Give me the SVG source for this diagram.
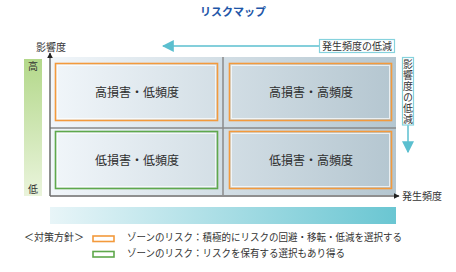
<svg xmlns="http://www.w3.org/2000/svg" width="456" height="272" viewBox="0 0 456 272">
<defs>
<linearGradient id="gridBg" x1="0" y1="0" x2="1" y2="0">
<stop offset="0" stop-color="#f1f6fa"/>
<stop offset="1" stop-color="#b4c6d0"/>
</linearGradient>
<linearGradient id="greenBar" x1="0" y1="0" x2="0" y2="1">
<stop offset="0" stop-color="#b3d88a"/>
<stop offset="1" stop-color="#eaf4dc"/>
</linearGradient>
<linearGradient id="cyanBar" x1="0" y1="0" x2="1" y2="0">
<stop offset="0" stop-color="#e8f5f8"/>
<stop offset="1" stop-color="#6ac6d2"/>
</linearGradient>
<marker id="blackHead" viewBox="0 0 10 10" refX="9" refY="5" markerWidth="6" markerHeight="6" markerUnits="userSpaceOnUse" orient="auto">
<path d="M0,0 L10,5 L0,10 z" fill="#222"/>
</marker>
<marker id="cyanHead" viewBox="0 0 10 10" refX="9" refY="5" markerWidth="12" markerHeight="12" markerUnits="userSpaceOnUse" orient="auto">
<path d="M0,0 L10,5 L0,10 z" fill="#5bbfcf"/>
</marker>
</defs>
<style>
text{font-family:"Noto Sans CJK JP","Noto Sans",sans-serif;fill:#333;}
.title{font-size:11px;font-weight:bold;fill:#1e56a8;}
.lbl{font-size:10px;}
.q{font-size:12px;text-anchor:middle;fill:#2e2e2e;}
.orange{fill:none;stroke:#f39a3c;stroke-width:1.6;}
.green{fill:none;stroke:#5fa84c;stroke-width:1.6;}
.inner{fill:none;stroke:#ffffff;stroke-opacity:0.7;stroke-width:1;}
.cbox{fill:#ffffff;stroke:#86d2dd;stroke-width:1.2;}
.axis{stroke:#6a6a6a;stroke-width:1.5;fill:none;}
.div{stroke:#8a8a8a;stroke-width:1.5;fill:none;}
.carrow{stroke:#5bbfcf;stroke-width:1.5;fill:none;}
.vert{font-size:10px;writing-mode:vertical-rl;letter-spacing:1px;}
</style>

<text class="title" x="233" y="16" text-anchor="middle">リスクマップ</text>

<g id="background">
<rect x="50" y="57" width="346" height="138" fill="url(#gridBg)"/>
<rect x="24" y="59" width="18" height="137" fill="url(#greenBar)"/>
<text class="lbl" x="33" y="70" text-anchor="middle">高</text>
<text class="lbl" x="33" y="193" text-anchor="middle">低</text>
<rect x="50" y="207" width="346" height="17" fill="url(#cyanBar)"/>
<line class="div" x1="223" y1="57" x2="223" y2="195"/>
<line class="div" x1="50" y1="128" x2="396" y2="128"/>
</g>

<g id="q-tl">
<rect class="orange" x="55.5" y="63.5" width="162" height="57"/>
<rect class="inner" x="57.5" y="65.5" width="158" height="53"/>
<text class="q" x="137" y="97">高損害・低頻度</text>
</g>
<g id="q-tr">
<rect class="orange" x="229.5" y="63.5" width="162" height="57"/>
<rect class="inner" x="231.5" y="65.5" width="158" height="53"/>
<text class="q" x="311" y="97">高損害・高頻度</text>
</g>
<g id="q-bl">
<rect class="green" x="55.5" y="131.5" width="162" height="57"/>
<rect class="inner" x="57.5" y="133.5" width="158" height="53"/>
<text class="q" x="137" y="165">低損害・低頻度</text>
</g>
<g id="q-br">
<rect class="orange" x="229.5" y="131.5" width="162" height="57"/>
<rect class="inner" x="231.5" y="133.5" width="158" height="53"/>
<text class="q" x="311" y="165">低損害・高頻度</text>
</g>

<g id="connectors">
<line class="axis" x1="50" y1="196" x2="50" y2="53" marker-end="url(#blackHead)"/>
<line class="axis" x1="50" y1="196" x2="399" y2="196" marker-end="url(#blackHead)"/>
<line class="carrow" x1="319" y1="46" x2="163" y2="46" marker-end="url(#cyanHead)"/>
<line class="carrow" x1="408" y1="125" x2="408" y2="152" marker-end="url(#cyanHead)"/>
</g>

<g id="axis-labels">
<text class="lbl" x="36" y="51">影響度</text>
<text class="lbl" x="402" y="200">発生頻度</text>
</g>

<g id="freq-reduce">
<rect class="cbox" x="319.5" y="39.5" width="75" height="13"/>
<text class="lbl" x="357" y="50" text-anchor="middle">発生頻度の低減</text>
</g>

<g id="impact-reduce">
<rect class="cbox" x="402.5" y="57.5" width="11" height="67.5"/>
<text class="vert" x="408" y="59">影響度の低減</text>
</g>

<g id="legend">
<text class="lbl" x="24" y="241">＜対策方針＞</text>
<rect class="orange" x="93" y="236" width="21" height="5.5" stroke-width="1.2"/>
<text class="lbl" x="127" y="241" textLength="275" lengthAdjust="spacingAndGlyphs">ゾーンのリスク：積極的にリスクの回避・移転・低減を選択する</text>
<rect class="green" x="93" y="251.5" width="21" height="5.5" stroke-width="1.2"/>
<text class="lbl" x="127" y="257" textLength="218" lengthAdjust="spacingAndGlyphs">ゾーンのリスク：リスクを保有する選択もあり得る</text>
</g>
</svg>
